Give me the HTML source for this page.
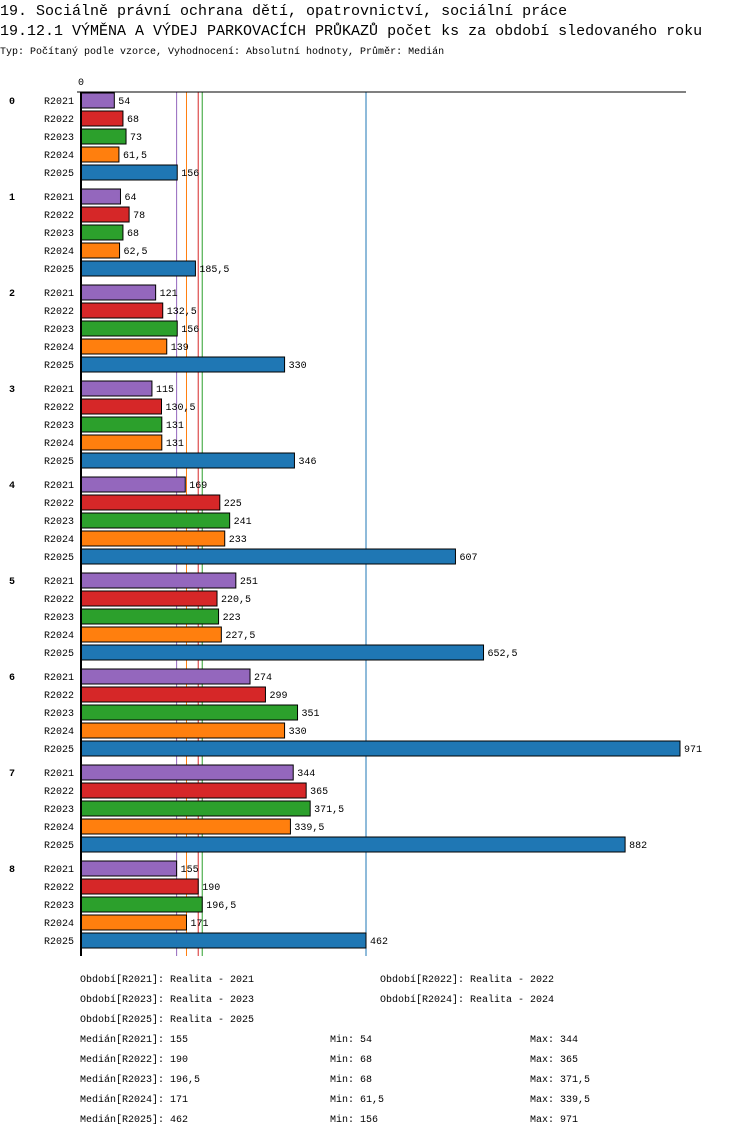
<!DOCTYPE html>
<html><head><meta charset="utf-8"><style>
body{margin:0;background:#fff;width:750px;height:1136px;overflow:hidden}
svg{font-family:"Liberation Mono",monospace;}
</style></head><body>
<svg id="chart" width="750" height="1136" xmlns="http://www.w3.org/2000/svg">
<text x="0" y="15" font-size="15">19. Sociálně právní ochrana dětí, opatrovnictví, sociální práce</text>
<text x="0" y="35" font-size="15">19.12.1 VÝMĚNA A VÝDEJ PARKOVACÍCH PRŮKAZŮ počet ks za období sledovaného roku</text>
<text x="0" y="54" font-size="10">Typ: Počítaný podle vzorce, Vyhodnocení: Absolutní hodnoty, Průměr: Medián</text>
<g id="plot"></g>
<g id="legend"></g>
</svg>
<script>
const groups = ["0","1","2","3","4","5","6","7","8"];
const seriesNames = ["R2021","R2022","R2023","R2024","R2025"];
const seriesColors = ["#9467bd","#d62728","#2ca02c","#ff7f0e","#1f77b4"];
const r2021 = [54,64,121,115,169,251,274,344,155];
const r2022 = [68,78,132.5,130.5,225,220.5,299,365,190];
const r2023 = [73,68,156,131,241,223,351,371.5,196.5];
const r2024 = [61.5,62.5,139,131,233,227.5,330,339.5,171];
const r2025 = [156,185.5,330,346,607,652.5,971,882,462];
const medians = [155,190,196.5,171,462];
const mins = [54,68,68,61.5,156];
const maxs = [344,365,371.5,339.5,971];
const periods = ["Realita - 2021","Realita - 2022","Realita - 2023","Realita - 2024","Realita - 2025"];
const axisMax = 971;

const NS="http://www.w3.org/2000/svg";
const series=[r2021,r2022,r2023,r2024,r2025];
const x0=81, xMaxPx=680;
function xs(v){return x0+v*(xMaxPx-x0)/axisMax;}
function rowY(g,s){return 100+g*96+s*18;}
function fmt(v){return String(v).replace('.',',');}
function mk(tag,attrs,parent){const e=document.createElementNS(NS,tag);for(const k in attrs)e.setAttribute(k,attrs[k]);parent.appendChild(e);return e;}
const plot=document.getElementById('plot');
const bottom=rowY(groups.length-1,4)+16;
medians.forEach((m,i)=>{
  const l=mk('line',{x1:xs(m),x2:xs(m),y1:92,y2:bottom,stroke:seriesColors[i],'stroke-width':1},plot);
  
  
});
const topAxis=mk('line',{x1:77,x2:686,y1:92,y2:92,stroke:'#000','stroke-width':1},plot);


const zt=mk('text',{x:x0-3,y:85,'font-size':10},plot);zt.textContent='0';


groups.forEach((g,gi)=>{
  const gl=mk('text',{x:9,y:rowY(gi,0)+4,'font-size':10,'font-weight':'bold'},plot);gl.textContent=g;
  
  
  series.forEach((arr,si)=>{
    const y=rowY(gi,si);
    const lab=mk('text',{x:74,y:y+4,'font-size':10,'text-anchor':'end'},plot);lab.textContent=seriesNames[si];
    
    
    const v=arr[gi];
    const r=mk('rect',{x:x0,y:y-7,width:xs(v)-x0,height:15,fill:seriesColors[si],stroke:'#000','stroke-width':1},plot);
    
    
    const vt=mk('text',{x:xs(v)+4,y:y+4,'font-size':10},plot);vt.textContent=fmt(v);
    
    
  });
});
const ax=mk('line',{x1:x0,x2:x0,y1:92,y2:bottom,stroke:'#000','stroke-width':2},plot);


const leg=document.getElementById('legend');
const pPos=[[80,982],[380,982],[80,1002],[380,1002],[80,1022]];
periods.forEach((p,i)=>{
  const t=mk('text',{x:pPos[i][0],y:pPos[i][1],'font-size':10},leg);t.textContent='Období['+seriesNames[i]+']: '+p;
  
  
});
seriesNames.forEach((s,i)=>{
  const y=1042+i*20;
  const a=mk('text',{x:80,y:y,'font-size':10},leg);a.textContent='Medián['+s+']: '+fmt(medians[i]);
  
  
  const b=mk('text',{x:330,y:y,'font-size':10},leg);b.textContent='Min: '+fmt(mins[i]);
  
  
  const c=mk('text',{x:530,y:y,'font-size':10},leg);c.textContent='Max: '+fmt(maxs[i]);
  
  
});
</script>
</body></html>
